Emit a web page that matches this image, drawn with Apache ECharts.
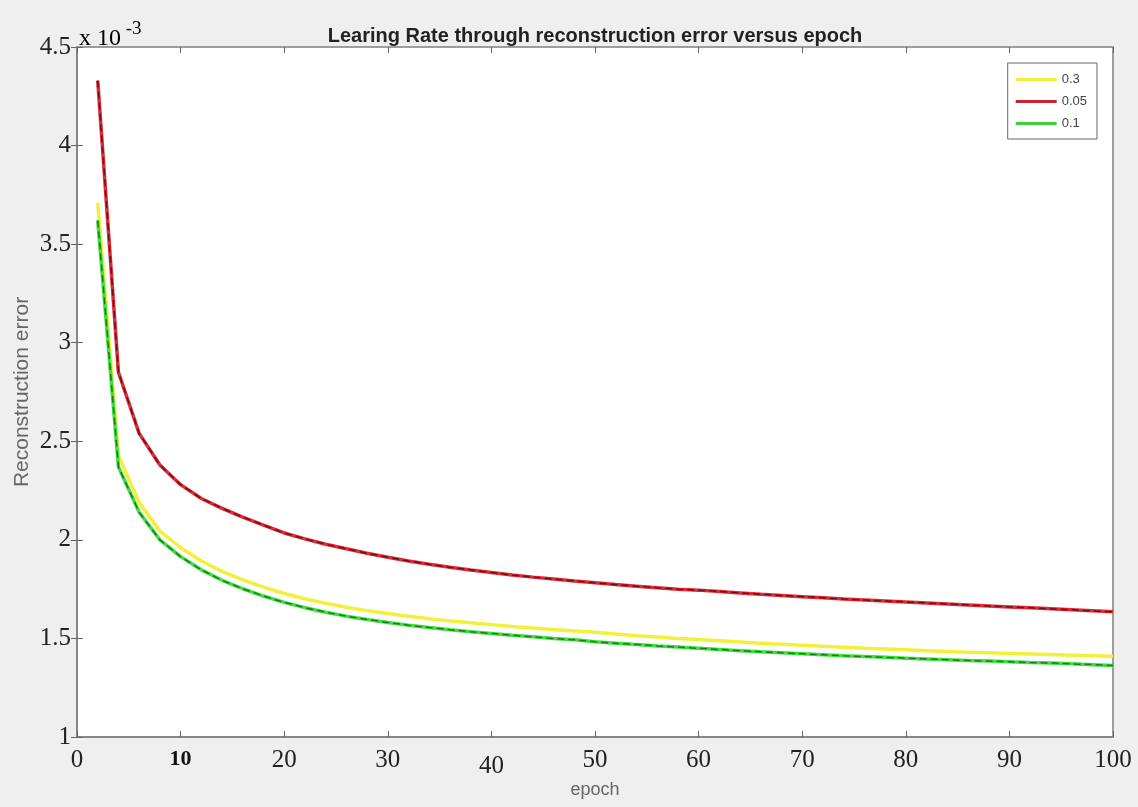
<!DOCTYPE html>
<html lang="en">

<head>
    <meta charset="UTF-8">
    <title>Learing Rate through reconstruction error versus epoch</title>
    <style>
        html,
        body {
            margin: 0;
            padding: 0;
            background: #efefef;
        }

        .box {
            width: 1138px;
            height: 807px;
        }
    </style>
</head>

<body>
    <div class="box"></div>

    <script src="https://cdn.jsdelivr.net/npm/echarts@6/dist/echarts.min.js"></script>
    <script>
        // epochs (x axis) - one point every 2 epochs
        let epochs = [2, 4, 6, 8, 10, 12, 14, 16, 18, 20, 22, 24, 26, 28, 30, 32, 34, 36, 38, 40,
            42, 44, 46, 48, 50, 52, 54, 56, 58, 60, 62, 64, 66, 68, 70, 72, 74, 76, 78, 80,
            82, 84, 86, 88, 90, 92, 94, 96, 98, 100]

        // reconstruction error, in units of 1e-3
        let err03 = [3.71, 2.43, 2.19, 2.045, 1.96, 1.893, 1.84, 1.797, 1.76, 1.728,
            1.701, 1.678, 1.658, 1.641, 1.626, 1.612, 1.6, 1.589, 1.579, 1.57,
            1.561, 1.553, 1.545, 1.538, 1.531, 1.522, 1.514, 1.507, 1.5, 1.494,
            1.488, 1.482, 1.476, 1.47, 1.465, 1.46, 1.455, 1.45, 1.446, 1.442,
            1.438, 1.434, 1.43, 1.427, 1.424, 1.421, 1.418, 1.415, 1.412, 1.409]
        let err005 = [4.33, 2.85, 2.54, 2.38, 2.28, 2.21, 2.16, 2.115, 2.075, 2.035,
            2.005, 1.978, 1.955, 1.932, 1.912, 1.893, 1.876, 1.861, 1.847, 1.834,
            1.822, 1.811, 1.801, 1.791, 1.782, 1.773, 1.765, 1.757, 1.75, 1.745,
            1.738, 1.731, 1.724, 1.718, 1.712, 1.706, 1.7, 1.695, 1.69, 1.685,
            1.68, 1.675, 1.67, 1.665, 1.66, 1.655, 1.65, 1.645, 1.64, 1.635]
        let err01 = [3.62, 2.37, 2.14, 2.0, 1.915, 1.848, 1.795, 1.752, 1.715, 1.683,
            1.656, 1.633, 1.613, 1.596, 1.581, 1.567, 1.555, 1.544, 1.534, 1.525,
            1.516, 1.508, 1.5, 1.493, 1.483, 1.476, 1.469, 1.462, 1.456, 1.45,
            1.444, 1.438, 1.432, 1.427, 1.422, 1.417, 1.412, 1.408, 1.404, 1.4,
            1.396, 1.392, 1.388, 1.385, 1.382, 1.378, 1.375, 1.371, 1.367, 1.363]

        let seriesNames = ["0.3", "0.05", "0.1"]

        let myChart = echarts.init(document.querySelector(".box"));

        function pairs(vals) {
            return epochs.map((e, i) => [e, vals[i]])
        }

        let tickFont = "'Liberation Serif', 'Times New Roman', serif"
        let sansFont = "'Liberation Sans', Arial, sans-serif"

        option = {
            backgroundColor: "#efefef",
            animation: false,
            title: {
                text: "Learing Rate through reconstruction error versus epoch",
                left: 590,
                textAlign: "center",
                top: 21,
                textStyle: {
                    fontFamily: sansFont,
                    fontSize: 20,
                    fontWeight: "bold",
                    color: "#222"
                }
            },
            graphic: [{
                type: "text",
                left: 79,
                top: 20,
                style: {
                    text: "{a|x 10}{b| -3}",
                    rich: {
                        a: { fontFamily: tickFont, fontSize: 24, color: "#222", padding: [7, 0, 0, 0] },
                        b: { fontFamily: tickFont, fontSize: 19, color: "#222", verticalAlign: "top" }
                    }
                }
            }],
            legend: {
                data: seriesNames,
                orient: "vertical",
                right: 41,
                top: 63,
                icon: "rect",
                itemWidth: 41,
                itemHeight: 3,
                itemGap: 9,
                padding: [10, 10, 9, 8],
                backgroundColor: "#fff",
                borderColor: "#666",
                borderWidth: 1,
                borderRadius: 0,
                textStyle: {
                    fontFamily: sansFont,
                    fontSize: 13,
                    color: "#444"
                }
            },
            grid: {
                left: 77,
                right: 25,
                top: 47,
                bottom: 70,
                outerBoundsMode: "none",
                show: true,
                backgroundColor: "#fff",
                borderColor: "#808080",
                borderWidth: 1.5
            },
            xAxis: [{
                type: "value",
                min: 0,
                max: 100,
                interval: 10,
                name: "epoch",
                nameLocation: "middle",
                nameGap: 44,
                nameMoveOverlap: false,
                nameTextStyle: { fontFamily: sansFont, fontSize: 18, color: "#666" },
                axisLine: { lineStyle: { color: "#808080", width: 1.5 } },
                axisTick: { inside: true, length: 6, lineStyle: { color: "#666" } },
                axisLabel: {
                    margin: 11,
                    fontFamily: tickFont,
                    fontSize: 25,
                    color: "#222",
                    formatter: function (v) {
                        if (v === 10) return "{b|10}"
                        if (v === 40) return "{low|40}"
                        return v
                    },
                    rich: {
                        b: { fontFamily: tickFont, fontSize: 22, fontWeight: "bold", color: "#111" },
                        low: { fontFamily: tickFont, fontSize: 25, color: "#222", padding: [6, 0, 0, 0] }
                    }
                },
                splitLine: { show: false }
            }, {
                type: "value",
                position: "top",
                min: 0,
                max: 100,
                interval: 10,
                axisLine: { show: false },
                axisTick: { inside: true, length: 6, lineStyle: { color: "#666" } },
                axisLabel: { show: false },
                splitLine: { show: false }
            }],
            yAxis: [{
                type: "value",
                min: 1,
                max: 4.5,
                interval: 0.5,
                name: "Reconstruction error",
                nameLocation: "middle",
                nameGap: 44,
                nameMoveOverlap: false,
                nameTextStyle: { fontFamily: sansFont, fontSize: 21, color: "#666" },
                axisLine: { show: true, lineStyle: { color: "#808080", width: 1.5 } },
                axisTick: { show: true, inside: true, length: 6, lineStyle: { color: "#666" } },
                axisLabel: {
                    margin: 6,
                    fontFamily: tickFont,
                    fontSize: 25,
                    color: "#222"
                },
                splitLine: { show: false }
            }, {
                type: "value",
                position: "right",
                min: 1,
                max: 4.5,
                interval: 0.5,
                axisLine: { show: false },
                axisTick: { show: true, inside: true, length: 6, lineStyle: { color: "#666" } },
                axisLabel: { show: false },
                splitLine: { show: false }
            }],
            series: [{
                name: "0.3",
                type: "line",
                data: pairs(err03),
                showSymbol: false,
                lineStyle: { color: "#f2f03a", width: 3.5 },
                itemStyle: { color: "#f2f03a" },
                z: 2
            }, {
                name: "0.05",
                type: "line",
                data: pairs(err005),
                showSymbol: false,
                lineStyle: { color: "#e02a35", width: 3.5 },
                itemStyle: { color: "#c8232e" },
                z: 3
            }, {
                // dark dashes over the red line
                name: "0.05 dash",
                type: "line",
                data: pairs(err005),
                showSymbol: false,
                lineStyle: { color: "#6a1018", width: 1.5, type: [7, 4] },
                z: 4
            }, {
                name: "0.1",
                type: "line",
                data: pairs(err01),
                showSymbol: false,
                lineStyle: { color: "#3ee03e", width: 3.5 },
                itemStyle: { color: "#3ad03a" },
                z: 5
            }, {
                name: "0.1 dash",
                type: "line",
                data: pairs(err01),
                showSymbol: false,
                lineStyle: { color: "#1f7a1f", width: 1.5, type: [7, 4] },
                z: 6
            }]
        }
        myChart.setOption(option);
    </script>
</body>

</html>
